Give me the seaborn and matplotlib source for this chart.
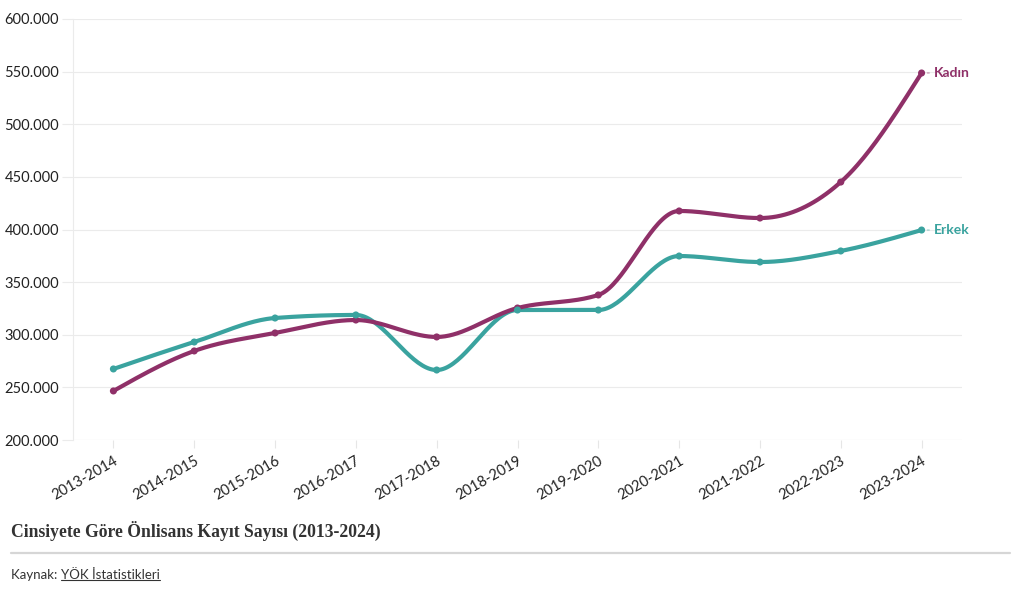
import numpy as np
import pandas as pd
import matplotlib
matplotlib.use("Agg")
import matplotlib.pyplot as plt
import seaborn as sns
from matplotlib.lines import Line2D
from matplotlib.ticker import FuncFormatter, MultipleLocator

years = ["2013-2014", "2014-2015", "2015-2016", "2016-2017", "2017-2018", "2018-2019",
         "2019-2020", "2020-2021", "2021-2022", "2022-2023", "2023-2024"]
kadin = [246600, 284600, 301700, 314000, 297900, 325400, 337800, 417600, 410900, 445100, 548700]
erkek = [267500, 293100, 315900, 318800, 266500, 323500, 323500, 374800, 369100, 379600, 399500]
series_names = ["Kadın", "Erkek"]
colors = {"Kadın": "#8f3068", "Erkek": "#3aa39f"}

title = "Cinsiyete Göre Önlisans Kayıt Sayısı (2013-2024)"
source_label = "Kaynak: "
source_link = "YÖK İstatistikleri"


def monotone_x(x, y, n=40):
    """d3 curveMonotoneX style cubic Hermite interpolation."""
    x = np.asarray(x, float)
    y = np.asarray(y, float)
    h = np.diff(x)
    s = np.diff(y) / h
    m = np.zeros_like(y)
    for i in range(1, len(y) - 1):
        h0, h1 = h[i - 1], h[i]
        s0, s1 = s[i - 1], s[i]
        p = (s0 * h1 + s1 * h0) / (h0 + h1)
        m[i] = (np.sign(s0) + np.sign(s1)) * min(abs(s0), abs(s1), 0.5 * abs(p))
    m[0] = (3 * s[0] - m[1]) / 2
    m[-1] = (3 * s[-1] - m[-2]) / 2
    xs, ys = [], []
    for i in range(len(x) - 1):
        t = np.linspace(0, 1, n)
        hh = h[i]
        h00 = 2 * t**3 - 3 * t**2 + 1
        h10 = t**3 - 2 * t**2 + t
        h01 = -2 * t**3 + 3 * t**2
        h11 = t**3 - t**2
        xs.append(x[i] + t * hh)
        ys.append(h00 * y[i] + h10 * hh * m[i] + h01 * y[i + 1] + h11 * hh * m[i + 1])
    return np.concatenate(xs), np.concatenate(ys)


sns.set_theme(style="white")
plt.rcParams["font.family"] = ["Lato", "DejaVu Sans"]

idx = np.arange(len(years))
df = pd.DataFrame({
    "idx": np.concatenate([idx, idx]),
    "value": kadin + erkek,
    "series": ["Kadın"] * len(years) + ["Erkek"] * len(years),
})

fig = plt.figure(figsize=(10.2, 5.94), dpi=100)
ax = fig.add_axes([73 / 1020, 154 / 594, (962 - 73) / 1020, (440 - 19) / 594])

for name, vals in [("Erkek", erkek), ("Kadın", kadin)]:
    cx, cy = monotone_x(idx, vals)
    ax.plot(cx, cy, color=colors[name], lw=3.0, solid_capstyle="round", zorder=3)

sns.scatterplot(data=df, x="idx", y="value", hue="series", palette=colors,
                s=26, linewidth=0, legend=False, ax=ax, zorder=4)

for name, vals in [("Kadın", kadin), ("Erkek", erkek)]:
    ax.annotate(name, xy=(idx[-1], vals[-1]), xytext=(9, 0), textcoords="offset points",
                color=colors[name], fontsize=10, fontweight="bold", va="center", ha="left",
                arrowprops=dict(arrowstyle="-", color=colors[name], lw=0.6, alpha=0.7,
                                shrinkA=1, shrinkB=4))

ax.set_xlim(-0.5, 10.5)
ax.set_ylim(200000, 600000)
ax.yaxis.set_major_locator(MultipleLocator(50000))
ax.yaxis.set_major_formatter(FuncFormatter(lambda v, p: f"{int(v):,}".replace(",", ".")))
ax.set_xticks(idx)
ax.set_xticklabels(years, rotation=30, ha="right", rotation_mode="anchor")
ax.grid(axis="y", color="#ebebeb", lw=0.8)
ax.grid(axis="x", visible=False)
for sp in ["top", "right", "bottom"]:
    ax.spines[sp].set_visible(False)
ax.spines["left"].set_color("#ebebeb")
ax.spines["left"].set_linewidth(0.8)
ax.tick_params(axis="y", length=8, width=0.8, color="#ebebeb", labelsize=10.5,
               labelcolor="#222222", pad=2, left=True)
ax.tick_params(axis="x", length=6, width=0.8, color="#e6e6e6", labelsize=10.5,
               labelcolor="#222222", pad=4, bottom=True)
ax.axhline(200000, color="#ebebeb", lw=0.8, zorder=1)
ax.set_xlabel("")
ax.set_ylabel("")

fig.text(11 / 1020, 1 - 531 / 594, title, fontsize=12.7, fontweight="bold",
         family=["Liberation Serif", "DejaVu Serif"], color="#333333", va="center", ha="left")
fig.add_artist(Line2D([11 / 1020, 1010 / 1020], [1 - 553 / 594, 1 - 553 / 594],
                      color="#d6d6d6", lw=1.6))
t1 = fig.text(11 / 1020, 1 - 575 / 594, source_label, fontsize=9.5, color="#333333",
              va="center", ha="left")
fig.canvas.draw()
r = fig.canvas.get_renderer()
bb = t1.get_window_extent(r)
x2 = bb.x1 / fig.bbox.width
t2 = fig.text(x2, 1 - 575 / 594, source_link, fontsize=9.5, color="#333333",
              va="center", ha="left")
bb2 = t2.get_window_extent(r)
uy = (bb2.y0 + 1) / fig.bbox.height
fig.add_artist(Line2D([bb2.x0 / fig.bbox.width, bb2.x1 / fig.bbox.width], [uy, uy],
                      color="#333333", lw=0.8))

fig.savefig("out.png", dpi=100)
